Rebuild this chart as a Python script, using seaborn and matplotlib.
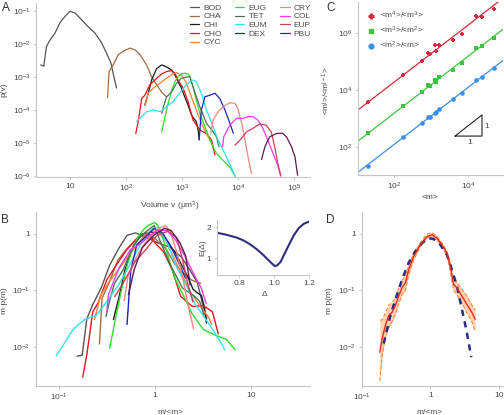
import matplotlib
matplotlib.use("Agg")
import matplotlib.pyplot as plt
from matplotlib.lines import Line2D
from matplotlib.ticker import NullLocator
import numpy as np
import pandas as pd
import seaborn as sns

# species and colours (panel A legend order)
species = ["BOD", "CHA", "CHI", "CHO", "CYC", "EUG", "TET",
           "EUM", "DEX", "CRY", "COL", "EUP", "PBU"]
colors = ["#555555", "#a86a40", "#1c1c1c", "#e3141c", "#ff7f32", "#2fdc2f", "#4f7258",
          "#35e2ea", "#1e22b8", "#f3877e", "#ee3cec", "#c9405c", "#5e1a52"]

# panel A: volume distributions p(v)
bod_v = [3.0, 3.4, 3.8, 4.4, 5.4, 6.6, 8.2, 10, 12.3, 16, 21, 28, 37, 45, 54, 61, 68]
bod_p = [2.3e-3, 2.1e-3, 8.3e-3, 1.3e-2, 2.1e-2, 4.3e-2, 6.8e-2, 9.5e-2, 8.5e-2, 5.4e-2,
         3.3e-2, 2.1e-2, 1.05e-2, 5.2e-3, 2.6e-3, 1.0e-3, 4.6e-4]
cha_v = [47, 50, 59, 73, 89, 118, 145, 178, 234, 287, 353, 434, 534]
cha_p = [2.4e-4, 1.45e-3, 2.3e-3, 4.7e-3, 5.9e-3, 7.4e-3, 6.6e-3, 4.7e-3, 2.3e-3,
         1.02e-3, 5.8e-4, 3.5e-4, 2.5e-4]
chi_v = [218, 251, 288, 355, 436, 534, 655, 750, 855, 980, 1125, 1290, 1480, 1630, 1810, 1950, 2040]
chi_p = [1.4e-4, 3.2e-4, 8.1e-4, 1.8e-3, 2.3e-3, 2.0e-3, 1.6e-3, 1.15e-3, 7.2e-4, 4.6e-4,
         2.5e-4, 1.4e-4, 7.1e-5, 5.6e-5, 4.5e-5, 2.5e-5, 1.3e-5]
cho_v = [150, 166, 191, 218, 268, 355, 436, 534, 655, 750, 855, 1050, 1290, 1580, 2090, 2750, 3400, 3900]
cho_p = [1.95e-5, 4.5e-5, 2.2e-4, 2.8e-4, 5.8e-4, 9.1e-4, 1.23e-3, 1.45e-3, 1.55e-3, 1.3e-3,
         8.1e-4, 4.6e-4, 1.8e-4, 5.0e-5, 2.5e-5, 1.95e-5, 1.23e-5, 4.4e-6]
cyc_v = [218, 251, 309, 409, 534, 695, 805, 980, 1200, 1480, 1810, 2230, 2750, 3400, 3630]
cyc_p = [1.4e-4, 3.2e-4, 4.6e-4, 6.5e-4, 9.1e-4, 1.23e-3, 1.35e-3, 1.15e-3, 6.5e-4, 2.5e-4,
         1.0e-4, 4.0e-5, 1.95e-5, 9.8e-6, 6.9e-6]
eug_v = [436, 500, 570, 660, 750, 855, 990, 1125, 1290, 1390, 1580, 1810, 2090, 2580, 3160,
         4150, 5450, 7200, 8900]
eug_p = [2.2e-5, 6.3e-5, 1.6e-4, 4.1e-4, 7.2e-4, 1.02e-3, 1.23e-3, 1.29e-3, 1.23e-3, 1.02e-3,
         5.1e-4, 2.0e-4, 7.9e-5, 3.1e-5, 1.23e-5, 4.9e-6, 3.0e-6, 1.9e-6, 1.0e-6]
tet_v = [436, 470, 534, 655, 805, 980, 1200, 1390, 1580, 2090, 2750, 3630, 4150, 4600]
tet_p = [7.9e-5, 1.3e-4, 2.5e-4, 3.5e-4, 6.5e-4, 9.1e-4, 9.8e-4, 1.02e-3, 5.0e-4, 1.26e-4,
         4.0e-5, 2.2e-5, 1.55e-5, 7.8e-6]
eum_v = [155, 178, 234, 309, 409, 534, 695, 915, 1200, 1580, 1810, 2230, 2750, 3630, 4450,
         5450, 6700, 8300, 8900]
eum_p = [4.5e-5, 5.6e-5, 8.9e-5, 1.0e-4, 8.9e-5, 1.26e-4, 1.8e-4, 3.2e-4, 5.8e-4, 8.1e-4,
         7.2e-4, 3.2e-4, 1.0e-4, 3.1e-5, 1.23e-5, 6.2e-6, 3.0e-6, 1.35e-6, 1.0e-6]
dex_v = [2040, 2230, 2580, 3160, 3900, 4780, 5900, 7200, 8300]
dex_p = [1.23e-5, 1.0e-4, 2.5e-4, 2.8e-4, 3.2e-4, 2.2e-4, 1.0e-4, 4.0e-5, 2.0e-5]
cry_v = [3300, 3630, 4450, 5450, 7200, 8900, 10000, 11700, 13500, 15200, 17500]
cry_p = [2.0e-5, 5.0e-5, 8.9e-5, 1.26e-4, 1.66e-4, 1.58e-4, 1.12e-4, 4.0e-5, 1.23e-5, 3.9e-6, 1.2e-6]
col_v = [5350, 5600, 7200, 9500, 12300, 15200, 18700, 22900, 28000, 34500, 42500, 52000, 58500]
col_p = [7.8e-6, 1.55e-5, 3.5e-5, 5.6e-5, 5.6e-5, 6.3e-5, 6.3e-5, 5.0e-5, 2.8e-5, 1.23e-5,
         4.9e-6, 2.1e-6, 1.0e-6]
eup_v = [8900, 10900, 14400, 18700, 24500, 32000, 39500, 45500, 52000, 58500]
eup_p = [8.7e-6, 1.23e-5, 2.2e-5, 2.8e-5, 3.8e-5, 3.5e-5, 2.2e-5, 7.8e-6, 2.4e-6, 1.07e-6]
pbu_v = [26500, 30500, 37000, 49000, 63000, 74000, 91000, 105000, 117000]
pbu_p = [3.2e-6, 7.8e-6, 1.55e-5, 1.95e-5, 2.0e-5, 1.55e-5, 7.8e-6, 3.9e-6, 1.07e-6]

# panel C: moment ratios against mean mass <m> (one point per species)
mean_m = [19.5, 178, 590, 850, 930, 1290, 1410, 1660, 3980, 6900, 17000, 23400, 50000]
ratio_43 = [3890, 33100, 107000, 204000, 178000, 380000, 240000, 389000, 562000, 955000,
            3.98e6, 3.72e6, 6.92e6]
ratio_32 = [302, 2750, 8900, 15100, 14100, 22400, 19500, 28800, 51300, 91200, 302000, 339000, 646000]
ratio_21 = [22.4, 224, 692, 1100, 1120, 1550, 1660, 2190, 4680, 7940, 23400, 29500, 60300]

# panel B inset: E(Delta)
delta = [0.67, 0.727, 0.785, 0.823, 0.862, 0.90, 0.938, 0.977, 1.002, 1.016, 1.035, 1.054,
         1.082, 1.111, 1.14, 1.169, 1.2]
energy = [1.82, 1.75, 1.66, 1.57, 1.44, 1.28, 1.09, 0.87, 0.74, 0.76, 0.87, 1.09, 1.41, 1.73,
          1.97, 2.11, 2.18]

# panel D: averaged collapse with band, and fitted curve
d_x = [0.182, 0.197, 0.22, 0.246, 0.275, 0.308, 0.345, 0.386, 0.431, 0.483, 0.571, 0.715,
       0.895, 1.057, 1.25, 1.48, 1.75, 1.96, 2.19, 2.45, 2.9, 3.43, 4.06, 4.54]
d_mean = [0.0081, 0.0139, 0.024, 0.036, 0.041, 0.054, 0.080, 0.112, 0.137, 0.235, 0.40, 0.646,
          0.90, 0.97, 0.845, 0.646, 0.46, 0.27, 0.128, 0.112, 0.080, 0.057, 0.041, 0.031]
d_upper = [0.030, 0.030, 0.040, 0.055, 0.060, 0.075, 0.110, 0.150, 0.180, 0.280, 0.45, 0.70,
           0.99, 1.06, 0.91, 0.70, 0.50, 0.31, 0.16, 0.14, 0.105, 0.08, 0.055, 0.045]
d_lower = [0.0025, 0.007, 0.015, 0.022, 0.028, 0.038, 0.058, 0.085, 0.10, 0.19, 0.35, 0.60,
           0.85, 0.90, 0.78, 0.59, 0.42, 0.22, 0.10, 0.085, 0.06, 0.04, 0.028, 0.019]
fit_x = [0.208, 0.26, 0.31, 0.386, 0.483, 0.60, 0.755, 0.946, 1.12, 1.40, 1.75, 2.07, 2.45, 2.9,
         3.43, 3.98]
fit_y = [0.0115, 0.036, 0.07, 0.157, 0.31, 0.49, 0.69, 0.845, 0.81, 0.645, 0.43, 0.235, 0.12,
         0.047, 0.018, 0.0066]

# tick labels
a_xticks = [10, 1e2, 1e3, 1e4, 1e5]
a_xticklabels = ["10", "10$^{2}$", "10$^{3}$", "10$^{4}$", "10$^{5}$"]
a_yticks = [1e-6, 1e-5, 1e-4, 1e-3, 1e-2, 1e-1]
a_yticklabels = ["10$^{-6}$", "10$^{-5}$", "10$^{-4}$", "10$^{-3}$", "10$^{-2}$", "10$^{-1}$"]
c_xticks = [1e2, 1e4]
c_xticklabels = ["10$^{2}$", "10$^{4}$"]
c_yticks = [1e2, 1e4, 1e6]
c_yticklabels = ["10$^{2}$", "10$^{4}$", "10$^{6}$"]
bd_xticks = [0.1, 1, 10]
bd_xticklabels = ["10$^{-1}$", "1", "10"]
bd_yticks = [0.01, 0.1, 1]
bd_yticklabels = ["10$^{-2}$", "10$^{-1}$", "1"]

sns.set_theme(style="ticks")
plt.rcParams["font.family"] = ["Liberation Sans", "DejaVu Sans"]
plt.rcParams["mathtext.fontset"] = "custom"
plt.rcParams["mathtext.rm"] = "Liberation Sans"
plt.rcParams["mathtext.it"] = "Liberation Sans:italic"
plt.rcParams["mathtext.bf"] = "Liberation Sans:bold"
plt.rcParams["mathtext.default"] = "regular"

TXT = "#4a4a4a"
SPINE = "#c4c4c4"
FS = 6


def style_axis(ax):
    for side in ["top", "right"]:
        ax.spines[side].set_visible(False)
    for side in ["left", "bottom"]:
        ax.spines[side].set_color(SPINE)
        ax.spines[side].set_linewidth(0.8)
    ax.tick_params(axis="both", length=2, width=0.6, color=SPINE, labelsize=FS,
                   labelcolor=TXT, pad=2)


def log_ticks(ax, xt, xl, yt, yl):
    ax.set_xticks(xt, xl)
    ax.set_yticks(yt, yl)
    ax.xaxis.set_minor_locator(NullLocator())
    ax.yaxis.set_minor_locator(NullLocator())


fig = plt.figure(figsize=(5.04, 4.15), dpi=100)
W, H = 504.0, 415.0


def px_axes(left, top, right, bottom):
    return fig.add_axes([left / W, 1 - bottom / H, (right - left) / W, (bottom - top) / H])


palette = dict(zip(species, colors))
all_v = [bod_v, cha_v, chi_v, cho_v, cyc_v, eug_v, tet_v, eum_v, dex_v, cry_v, col_v, eup_v, pbu_v]
all_p = [bod_p, cha_p, chi_p, cho_p, cyc_p, eug_p, tet_p, eum_p, dex_p, cry_p, col_p, eup_p, pbu_p]
df_a = pd.concat([pd.DataFrame({"species": s, "v": v, "p": p})
                  for s, v, p in zip(species, all_v, all_p)], ignore_index=True)
means = dict(zip(species, mean_m))
df_a["x"] = df_a["v"] / df_a["species"].map(means)
df_a["y"] = df_a["v"] * df_a["p"]

# ---- panel A
axA = px_axes(36, 3, 310, 177)
axA.set_xscale("log")
axA.set_yscale("log")
sns.lineplot(data=df_a, x="v", y="p", hue="species", palette=palette, estimator=None,
             sort=False, linewidth=0.9, ax=axA)
axA.set_xlim(2.47, 1.95e5)
axA.set_ylim(0.95e-6, 0.17)
style_axis(axA)
log_ticks(axA, a_xticks, a_xticklabels, a_yticks, a_yticklabels)
axA.set_xlabel("Volume v (μm$^{3}$)", fontsize=FS, color=TXT)
axA.set_ylabel("p(v)", fontsize=FS, color=TXT)
axA.xaxis.set_label_coords(0.49, -0.13)
axA.yaxis.set_label_coords(-0.106, 0.5)
sns.move_legend(axA, "upper left", bbox_to_anchor=(190 / W, 1 - 4 / H),
                bbox_transform=fig.transFigure, ncol=3, frameon=False, title=None,
                fontsize=FS, handlelength=1.1, handletextpad=0.5, columnspacing=1.6,
                labelspacing=0.1, borderpad=0, borderaxespad=0)
for t in axA.get_legend().get_texts():
    t.set_color(TXT)

# ---- panel C
axC = px_axes(358, 2, 503, 175)
axC.set_xscale("log")
axC.set_yscale("log")
axC.set_xlim(10.7, 8.9e4)
axC.set_ylim(10.5, 1.23e7)
xs = np.array(axC.get_xlim())
c_series = [(ratio_43, "#d8283c", "P", "<m$^{4}$>/<m$^{3}$>"),
            (ratio_32, "#3cc43c", "s", "<m$^{3}$>/<m$^{2}$>"),
            (ratio_21, "#3a8fe6", "o", "<m$^{2}$>/<m>")]
handles = []
for vals, col, mk, lab in c_series:
    icpt = np.mean(np.log10(vals) - np.log10(mean_m))
    sns.lineplot(x=xs, y=xs * 10 ** icpt, color=col, linewidth=0.9, estimator=None, ax=axC)
    sns.scatterplot(x=mean_m, y=vals, color=col, marker=mk, s=11, linewidth=0, ax=axC)
    handles.append(Line2D([], [], color=col, marker=mk, linestyle="none", markersize=3.5, label=lab))
style_axis(axC)
log_ticks(axC, c_xticks, c_xticklabels, c_yticks, c_yticklabels)
leg = axC.legend(handles=handles, loc="upper left", bbox_to_anchor=(367 / W, 1 - 10 / H),
                 bbox_transform=fig.transFigure, frameon=False, fontsize=FS,
                 handlelength=1.0, handletextpad=0.5, labelspacing=0.45, borderpad=0,
                 borderaxespad=0)
for t in leg.get_texts():
    t.set_color(TXT)
axC.set_xlabel("<m>", fontsize=FS, color=TXT)
axC.set_ylabel("<m$^{j}$>/<m$^{j-1}$>", fontsize=FS, color=TXT)
axC.xaxis.set_label_coords(0.5, -0.11)
axC.yaxis.set_label_coords(-0.18, 0.49)
axC.plot([0.669, 0.855, 0.855, 0.669], [0.225, 0.225, 0.347, 0.225], color="#222222",
         linewidth=0.8, transform=axC.transAxes)
axC.text(0.773, 0.19, "1", transform=axC.transAxes, fontsize=FS, color=TXT,
         ha="center", va="center")
axC.text(0.885, 0.283, "1", transform=axC.transAxes, fontsize=FS, color=TXT,
         ha="center", va="center")

# ---- panel B
axB = px_axes(35.7, 212, 310, 386)
axB.set_xscale("log")
axB.set_yscale("log")
sns.lineplot(data=df_a, x="x", y="y", hue="species", palette=palette, estimator=None,
             sort=False, linewidth=1.0, legend=False, ax=axB)
axB.set_xlim(0.057, 41.7)
axB.set_ylim(0.00204, 2.45)
style_axis(axB)
log_ticks(axB, bd_xticks, bd_xticklabels, bd_yticks, bd_yticklabels)
axB.set_xlabel("m/<m>", fontsize=FS, color=TXT)
axB.set_ylabel("m p(m)", fontsize=FS, color=TXT)
axB.xaxis.set_label_coords(0.49, -0.135)
axB.yaxis.set_label_coords(-0.1, 0.49)

# inset
axI = px_axes(216.7, 220, 309.3, 274.7)
sns.lineplot(x=delta, y=energy, color="#2e2e7e", linewidth=1.5, estimator=None, ax=axI)
axI.set_xlim(0.67, 1.2)
axI.set_ylim(0.46, 2.23)
style_axis(axI)
axI.set_xticks([0.8, 1.0, 1.2], ["0.8", "1.0", "1.2"])
axI.set_yticks([1, 2], ["1", "2"])
axI.set_xlabel("Δ", fontsize=FS, color=TXT)
axI.set_ylabel("E(Δ)", fontsize=FS, color=TXT)
axI.xaxis.set_label_coords(0.52, -0.3)
axI.yaxis.set_label_coords(-0.11, 0.5)

# ---- panel D
axD = px_axes(361.7, 212, 503, 386)
axD.set_xscale("log")
axD.set_yscale("log")
axD.fill_between(d_x, d_lower, d_upper, color="#fdd3b2", linewidth=0)
sns.lineplot(x=d_x, y=d_lower, color="#f4893c", linewidth=0.8, linestyle="--",
             estimator=None, ax=axD)
sns.lineplot(x=d_x, y=d_upper, color="#f4893c", linewidth=0.8, linestyle="--",
             estimator=None, ax=axD)
sns.lineplot(x=fit_x, y=fit_y, color="#2b2b85", linewidth=1.8, linestyle=(0, (2.5, 2.2)),
             estimator=None, ax=axD)
sns.lineplot(x=d_x, y=d_mean, color="#e52a1e", linewidth=1.0, estimator=None, ax=axD)
axD.set_xlim(0.099, 11.6)
axD.set_ylim(0.00204, 2.45)
style_axis(axD)
log_ticks(axD, bd_xticks, bd_xticklabels, bd_yticks, bd_yticklabels)
axD.set_xlabel("m/<m>", fontsize=FS, color=TXT)
axD.set_ylabel("m p(m)", fontsize=FS, color=TXT)
axD.xaxis.set_label_coords(0.48, -0.135)
axD.yaxis.set_label_coords(-0.2, 0.49)

# panel letters
for letter, x, y in [("A", 6, 8), ("B", 5, 220), ("C", 331, 8), ("D", 330, 220)]:
    fig.text(x / W, 1 - y / H, letter, fontsize=8.5, color="#333333", ha="center", va="center")

fig.savefig("out.png", dpi=100)
